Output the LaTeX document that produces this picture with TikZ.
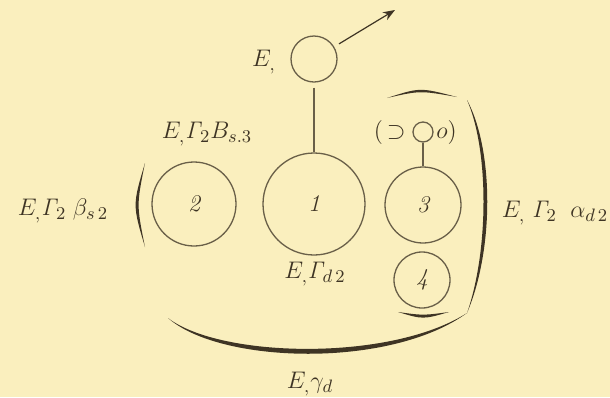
\documentclass[tikz,border=0pt]{standalone}
\usetikzlibrary{arrows.meta}
\definecolor{paper}{RGB}{250,239,190}
\definecolor{ink}{RGB}{62,52,36}
\definecolor{pen}{RGB}{105,95,72}
\begin{document}
\begin{tikzpicture}[x=0.5pt,y=-0.5pt,
  ring/.style={circle,draw=pen,line width=0.65pt,inner sep=0pt,text=ink,font=\fontsize{12}{14}\selectfont\itshape},
  lab/.style={text=ink,inner sep=0pt,font=\fontsize{13}{15}\selectfont},
  conn/.style={draw=pen,line width=0.6pt}]
\fill[paper] (0,0) rectangle (610,397);
\useasboundingbox (0,0) rectangle (610,397);

% circles
\node[ring,minimum size=23pt] (top) at (314,59) {};
\node[ring,minimum size=51pt] (c1) at (314,204) {1};
\node[ring,minimum size=42pt] (c2) at (194,204) {2};
\node[ring,minimum size=38pt] (c3) at (423,205) {3};
\node[ring,minimum size=28pt] (c4) at (422,280) {4};
\node[ring,minimum size=10pt] (sm) at (423,132) {};
\node[lab,anchor=east] (smL) at (406,132) {$(\,\supset$};
\node[lab,anchor=west] (smR) at (436,132) {$o)$};

% connectors
\coordinate (tip) at (395,10);
\draw[conn] ([yshift=-2.5pt]top.south) -- (c1.north);
\draw[conn] (sm.south) -- (c3.north);
\draw[draw=ink,line width=0.6pt,-{Stealth[length=6pt,width=4.5pt]},shorten <=2.8pt] (top) -- (tip);

% labels
\node[lab] (lE) at (264,62) {$E_{,}$};
\node[lab] (lL) at (63,211) {$E_{,}\mathit{\Gamma}_{2}\;\beta_{s\,2}$};
\node[lab] (lB) at (207,134) {$E_{,}\mathit{\Gamma}_{2}B_{s.3}$};
\node[lab] (l1) at (315,274) {$E_{,}\mathit{\Gamma}_{d\,2}$};
\node[lab] (lR) at (555,213) {$E_{,}\;\mathit{\Gamma}_{2}\;\;\alpha_{d\,2}$};
\node[lab] (lD) at (310,384) {$E_{,}\gamma_{d}$};

% tapered brackets
\fill[ink] (145,163) .. controls (132.5,205) .. (145,247) .. controls (136.5,205) .. (145,163) -- cycle;
\fill[ink] (387,98) .. controls (420,87.3) .. (457,97) .. controls (420,90.5) .. (387,98) -- cycle;
\fill[ink] (467,100) .. controls (494,150) and (494,250) .. (467,313) .. controls (489,250) and (489,150) .. (467,100) -- cycle;
\fill[ink] (168,318) .. controls (220,364) and (390,369) .. (467,313) .. controls (390,362) and (220,358) .. (168,318) -- cycle;
\fill[ink] (398,312) .. controls (423,319.5) .. (449,312) .. controls (423,315.5) .. (398,312) -- cycle;
\end{tikzpicture}
\end{document}
